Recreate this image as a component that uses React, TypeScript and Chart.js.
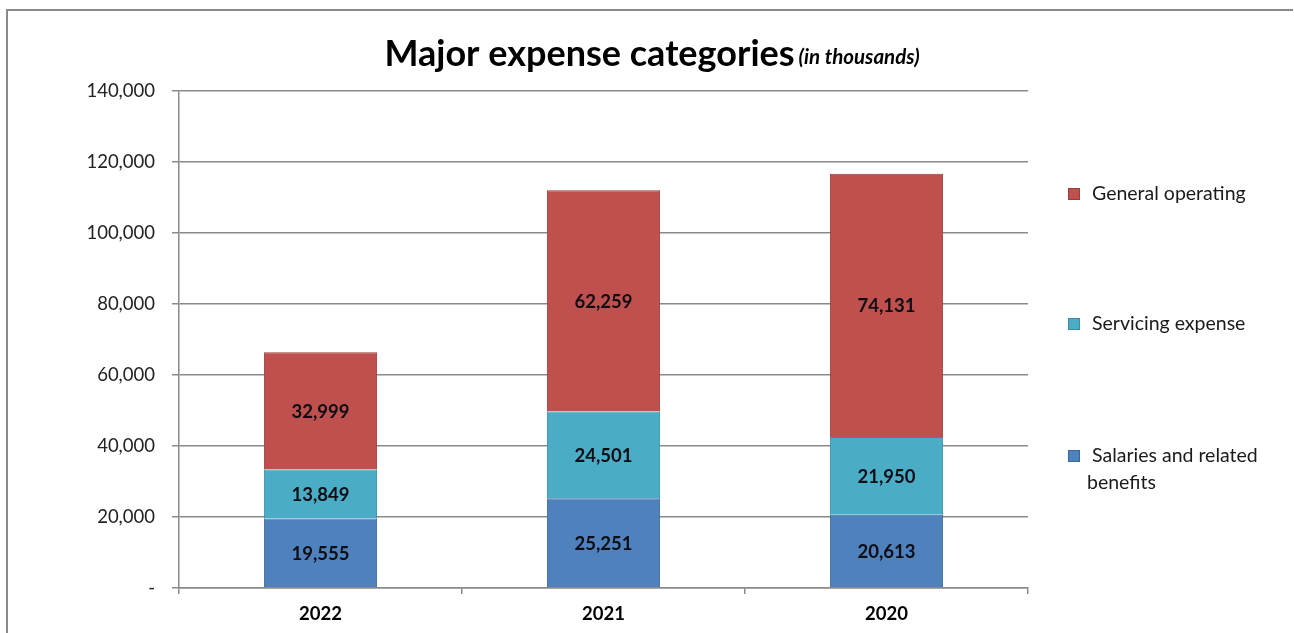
import React, { useEffect, useRef } from "react";
import { Chart, registerables } from "chart.js";

Chart.register(...registerables);

const categories = ["2022", "2021", "2020"];
const salaries = [19555, 25251, 20613];
const servicing = [13849, 24501, 21950];
const general = [32999, 62259, 74131];
const yTicks = [0, 20000, 40000, 60000, 80000, 100000, 120000, 140000];
const legendLabels = [
  ["General operating"],
  ["Servicing expense"],
  ["Salaries and related", "benefits"],
];
const titleMain = "Major expense categories";
const titleSub = "(in thousands)";

const FONT = "Lato, 'Open Sans', sans-serif";

const COLORS = {
  general: "#C0504D",
  generalBorder: "#9A3E3B",
  servicing: "#4BACC6",
  servicingBorder: "#3B8CA3",
  salaries: "#4F81BD",
  salariesBorder: "#3B6696",
};

const decorPlugin = {
  id: "decor",
  afterDraw(chart: any) {
    const ctx: CanvasRenderingContext2D = chart.ctx;
    ctx.save();
    // frame
    ctx.strokeStyle = "#8a8a8a";
    ctx.lineWidth = 2;
    ctx.beginPath();
    ctx.moveTo(7, 640);
    ctx.lineTo(7, 10);
    ctx.lineTo(1293, 10);
    ctx.stroke();

    // title
    ctx.fillStyle = "#000";
    ctx.textBaseline = "alphabetic";
    const mainFont = `bold 36px ${FONT}`;
    const subFont = `italic bold 20.5px ${FONT}`;
    ctx.font = mainFont;
    const w1 = ctx.measureText(titleMain).width;
    ctx.font = subFont;
    const w2 = ctx.measureText(titleSub).width;
    const gap = 4;
    const total = w1 + gap + w2;
    const x0 = 652 - total / 2;
    ctx.textAlign = "left";
    ctx.font = mainFont;
    ctx.fillText(titleMain, x0, 66);
    ctx.font = subFont;
    ctx.fillText(titleSub, x0 + w1 + gap, 64);

    // data labels
    ctx.font = `bold 18.5px ${FONT}`;
    ctx.fillStyle = "#0d0d14";
    ctx.textAlign = "center";
    ctx.textBaseline = "middle";
    chart.data.datasets.forEach((ds: any, di: number) => {
      const meta = chart.getDatasetMeta(di);
      meta.data.forEach((bar: any, i: number) => {
        const v = ds.data[i];
        const yc = (bar.y + bar.base) / 2;
        ctx.fillText(v.toLocaleString("en-US"), bar.x, yc + 1);
      });
    });

    // legend
    const legendColors = [
      [COLORS.general, COLORS.generalBorder],
      [COLORS.servicing, COLORS.servicingBorder],
      [COLORS.salaries, COLORS.salariesBorder],
    ];
    const rowY = [194, 324, 456];
    ctx.font = `19.5px ${FONT}`;
    ctx.textAlign = "left";
    ctx.textBaseline = "middle";
    legendLabels.forEach((lines, i) => {
      const y = rowY[i];
      ctx.fillStyle = legendColors[i][0];
      ctx.fillRect(1068, y - 6, 12, 12);
      ctx.strokeStyle = legendColors[i][1];
      ctx.lineWidth = 1;
      ctx.strokeRect(1068.5, y - 5.5, 11, 11);
      ctx.fillStyle = "#1a1a1a";
      lines.forEach((ln, j) => {
        ctx.fillText(ln, j === 0 ? 1092 : 1087, y + j * 27);
      });
    });
    ctx.restore();
  },
};

export default function App() {
  const ref = useRef<HTMLCanvasElement>(null);
  useEffect(() => {
    if (!ref.current) return;
    const chart = new Chart(ref.current, {
      type: "bar",
      data: {
        labels: categories,
        datasets: [
          {
            label: "Salaries and related benefits",
            data: salaries,
            backgroundColor: COLORS.salaries,
            borderColor: COLORS.salariesBorder,
            borderWidth: 1,
          },
          {
            label: "Servicing expense",
            data: servicing,
            backgroundColor: COLORS.servicing,
            borderColor: COLORS.servicingBorder,
            borderWidth: 1,
          },
          {
            label: "General operating",
            data: general,
            backgroundColor: COLORS.general,
            borderColor: COLORS.generalBorder,
            borderWidth: 1,
          },
        ],
      },
      options: {
        responsive: false,
        animation: false,
        devicePixelRatio: 1,
        layout: { padding: { left: 0, right: 266, top: 91, bottom: 0 } },
        datasets: { bar: { categoryPercentage: 1, barPercentage: 0.4 } },
        plugins: {
          legend: { display: false },
          title: { display: false },
          tooltip: { enabled: false },
        },
        scales: {
          x: {
            stacked: true,
            grid: {
              offset: true,
              drawOnChartArea: false,
              drawTicks: true,
              tickLength: 6,
              color: "#8a8a8a",
              lineWidth: 1.5,
            },
            border: { display: true, color: "#8a8a8a", width: 1.5 },
            ticks: {
              color: "#000",
              font: { family: FONT, size: 18.5, weight: "bold" },
              padding: 9,
            },
            afterFit: (s: any) => {
              s.height = 45;
            },
          },
          y: {
            stacked: true,
            min: 0,
            max: 140000,
            afterBuildTicks: (s: any) => {
              s.ticks = yTicks.map((v) => ({ value: v }));
            },
            grid: {
              color: "#8a8a8a",
              lineWidth: 1.5,
              drawTicks: true,
              tickLength: 7,
            },
            border: { display: true, color: "#8a8a8a", width: 1.5 },
            ticks: {
              color: "#222",
              font: { family: FONT, size: 18.5 },
              padding: 17,
              callback: (v: any) =>
                Number(v) === 0 ? "-" : Number(v).toLocaleString("en-US"),
            },
            afterFit: (s: any) => {
              s.width = 179;
            },
          },
        },
      },
      plugins: [decorPlugin],
    });
    return () => chart.destroy();
  }, []);
  return (
    <div
      style={{
        position: "absolute",
        left: 0,
        top: 0,
        width: 1294,
        height: 633,
        background: "#fff",
      }}
    >
      <canvas ref={ref} width={1294} height={633} style={{ display: "block" }} />
    </div>
  );
}
